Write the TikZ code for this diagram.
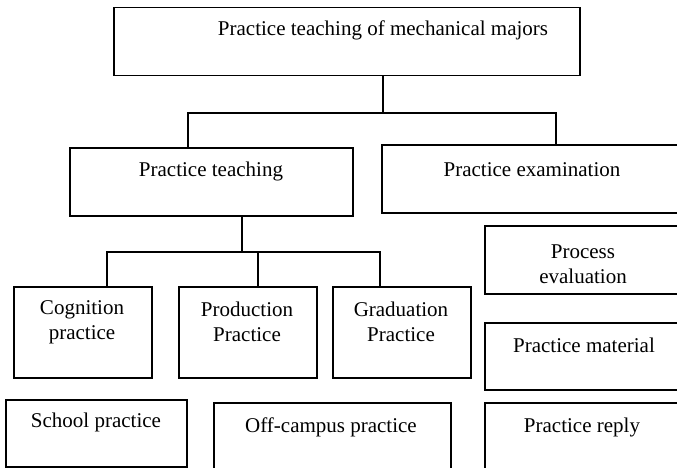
\documentclass[tikz,border=0pt]{standalone}
\usepackage{fontspec}
\setmainfont{Liberation Serif}

\tikzset{
  box/.style={draw, line width=1.5pt, inner sep=0pt, anchor=north west},
  txt/.style={font=\fontsize{21}{25}\selectfont, align=center, inner sep=0pt},
  link/.style={line width=1.5pt}
}

\begin{document}
\begin{tikzpicture}[x=1pt,y=-1pt]

  % Rahmen
  \useasboundingbox (0,0) rectangle (677,468);

  % Kaesten
  \node[box, minimum width=466, minimum height=68] (top) at (113,7) {};
  \node[box, minimum width=283, minimum height=68] (teach) at (69,147) {};
  \node[box, minimum width=320, minimum height=68] (exam) at (381,144) {};
  \node[box, minimum width=220, minimum height=68] (proc) at (484,225) {};
  \node[box, minimum width=138, minimum height=91] (cog) at (13,286) {};
  \node[box, minimum width=138, minimum height=91] (prod) at (178,286) {};
  \node[box, minimum width=138, minimum height=91] (grad) at (332,286) {};
  \node[box, minimum width=220, minimum height=67] (mat) at (484,322) {};
  \node[box, minimum width=220, minimum height=80] (reply) at (484,402) {};
  \node[box, minimum width=181, minimum height=67] (school) at (5,399) {};
  \node[box, minimum width=237, minimum height=80] (offc) at (213,402) {};

  % Texte
  \node[txt] (ttop) at (383,30) {Practice teaching of mechanical majors};
  \node[txt] (tteach) at (211,171) {Practice teaching};
  \node[txt] (texam) at (532,170) {Practice examination};
  \node[txt] (tproc) at (583,264) {Process\\evaluation};
  \node[txt] (tcog) at (82,322) {Cognition\\practice};
  \node[txt] (tprod) at (247,322) {Production\\Practice};
  \node[txt] (tgrad) at (401,322) {Graduation\\Practice};
  \node[txt] (tmat) at (584,345) {Practice material};
  \node[txt] (treply) at (582,427) {Practice reply};
  \node[txt] (tschool) at (96,422) {School practice};
  \node[txt] (toffc) at (331,427) {Off-campus practice};

  % Verbindungen
  \coordinate (j1) at (383,113);
  \coordinate (b1l) at (188,113);
  \coordinate (b1r) at (556,113);
  \draw[link] (j1 |- top.south) -- (j1);
  \draw[link] (b1l |- teach.north) -- (b1l) -- (b1r) -- (b1r |- exam.north);

  \coordinate (j2) at (242,252);
  \coordinate (b2l) at (107,252);
  \coordinate (b2m) at (258,252);
  \coordinate (b2r) at (380,252);
  \draw[link] (j2 |- teach.south) -- (j2);
  \draw[link] (b2l |- cog.north) -- (b2l) -- (b2r) -- (b2r |- grad.north);
  \draw[link] (b2m) -- (b2m |- prod.north);

\end{tikzpicture}
\end{document}
